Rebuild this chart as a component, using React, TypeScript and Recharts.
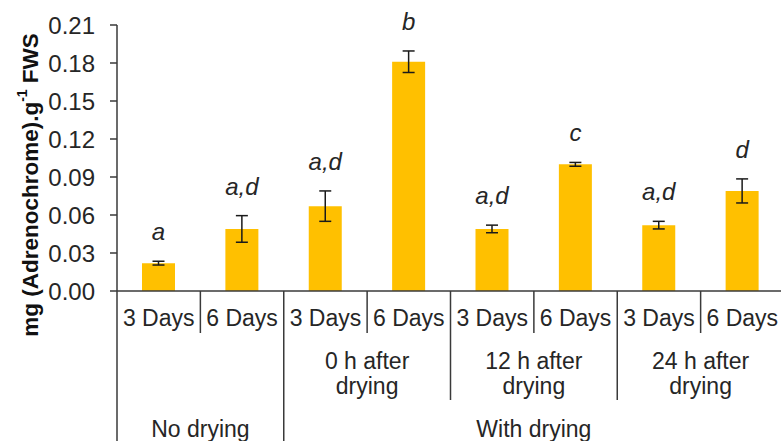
import { Bar, BarChart, ErrorBar, LabelList, XAxis, YAxis } from 'recharts';

const days = ['3 Days', '6 Days', '3 Days', '6 Days', '3 Days', '6 Days', '3 Days', '6 Days'];
const values = [0.022, 0.049, 0.067, 0.181, 0.049, 0.1, 0.052, 0.079];
const errors = [0.0015, 0.0105, 0.012, 0.0085, 0.003, 0.0015, 0.003, 0.0095];
const letters = ['a', 'a,d', 'a,d', 'b', 'a,d', 'c', 'a,d', 'd'];
const stages = [
  ['0 h after', 'drying'],
  ['12 h after', 'drying'],
  ['24 h after', 'drying'],
];
const groups = ['No drying', 'With drying'];
const yTicks = [0, 0.03, 0.06, 0.09, 0.12, 0.15, 0.18, 0.21];

const data = days.map((day, i) => ({ id: i, day, value: values[i], err: errors[i] }));

const W = 784;
const H = 441;
const LEFT = 117;
const TOP = 25;
const BOTTOM = 150;
const AXIS_Y = H - BOTTOM;
const BAND = (W - LEFT) / days.length;
const FONT = '"Liberation Sans", Arial, sans-serif';
const INK = '#262626';
const LINE = '#3a3a3a';

function DayTick(props: any) {
  const { x, payload } = props;
  const i = payload.index ?? payload.value;
  const left = x - BAND / 2;
  // separator on the left of each bar, length depends on grouping level
  const end = i % 2 === 1 ? 333 : i === 0 || i === 2 ? H : 400;
  return (
    <g fontFamily={FONT} fill={INK}>
      <line x1={left} x2={left} y1={AXIS_Y} y2={end} stroke={LINE} strokeWidth={1.5} />
      <text x={x} y={326} textAnchor="middle" fontSize={23}>
        {days[i]}
      </text>
      {i % 2 === 1 && i > 1 && (
        <text x={left} textAnchor="middle" fontSize={23}>
          <tspan x={left} y={369}>{stages[(i - 3) / 2][0]}</tspan>
          <tspan x={left} y={394}>{stages[(i - 3) / 2][1]}</tspan>
        </text>
      )}
      {i === 0 && (
        <text x={x + BAND / 2} y={437} textAnchor="middle" fontSize={23}>
          {groups[0]}
        </text>
      )}
      {i === 4 && (
        <text x={x + BAND / 2} y={437} textAnchor="middle" fontSize={23}>
          {groups[1]}
        </text>
      )}
    </g>
  );
}

function Letter(props: any) {
  const { x, y, width, height, index } = props;
  const errTop = y - (errors[index] * height) / values[index];
  return (
    <text
      x={x + width / 2}
      y={errTop - 21}
      textAnchor="middle"
      fontFamily={FONT}
      fontStyle="italic"
      fontSize={24}
      fill={INK}
    >
      {letters[index]}
    </text>
  );
}

function YTitle() {
  return (
    <text
      x={30}
      y={185}
      transform="rotate(-90 30 185)"
      textAnchor="middle"
      dominantBaseline="central"
      fontFamily={FONT}
      fontWeight="bold"
      fontSize={22.5}
      fill="#111"
    >
      mg (Adrenochrome).g
      <tspan dy={-8} fontSize={14}>-1</tspan>
      <tspan dy={8}> FWS</tspan>
    </text>
  );
}

export default function App() {
  return (
    <div
      style={{
        position: 'absolute',
        left: 0,
        top: 0,
        width: 781,
        height: 441,
        overflow: 'hidden',
        background: '#fff',
      }}
    >
      <BarChart
        width={W}
        height={H}
        data={data}
        margin={{ top: TOP, right: 0, bottom: 0, left: 0 }}
        barCategoryGap={0}
      >
        <XAxis
          dataKey="id"
          height={BOTTOM}
          interval={0}
          tickLine={false}
          axisLine={{ stroke: LINE, strokeWidth: 1.5 }}
          tick={<DayTick />}
        />
        <YAxis
          width={LEFT}
          domain={[0, 0.21]}
          ticks={yTicks}
          tickFormatter={(v: number) => v.toFixed(2)}
          tickSize={7}
          tickMargin={15}
          axisLine={{ stroke: LINE, strokeWidth: 1.5 }}
          tickLine={{ stroke: LINE, strokeWidth: 1.5 }}
          tick={{ fontSize: 24, fill: INK, fontFamily: FONT }}
          label={{ content: () => <YTitle /> }}
        />
        <Bar dataKey="value" fill="#FFC000" barSize={33} isAnimationActive={false}>
          <ErrorBar dataKey="err" width={6} stroke="#1a1a1a" strokeWidth={1.5} />
          <LabelList dataKey="value" content={<Letter />} />
        </Bar>
      </BarChart>
    </div>
  );
}
